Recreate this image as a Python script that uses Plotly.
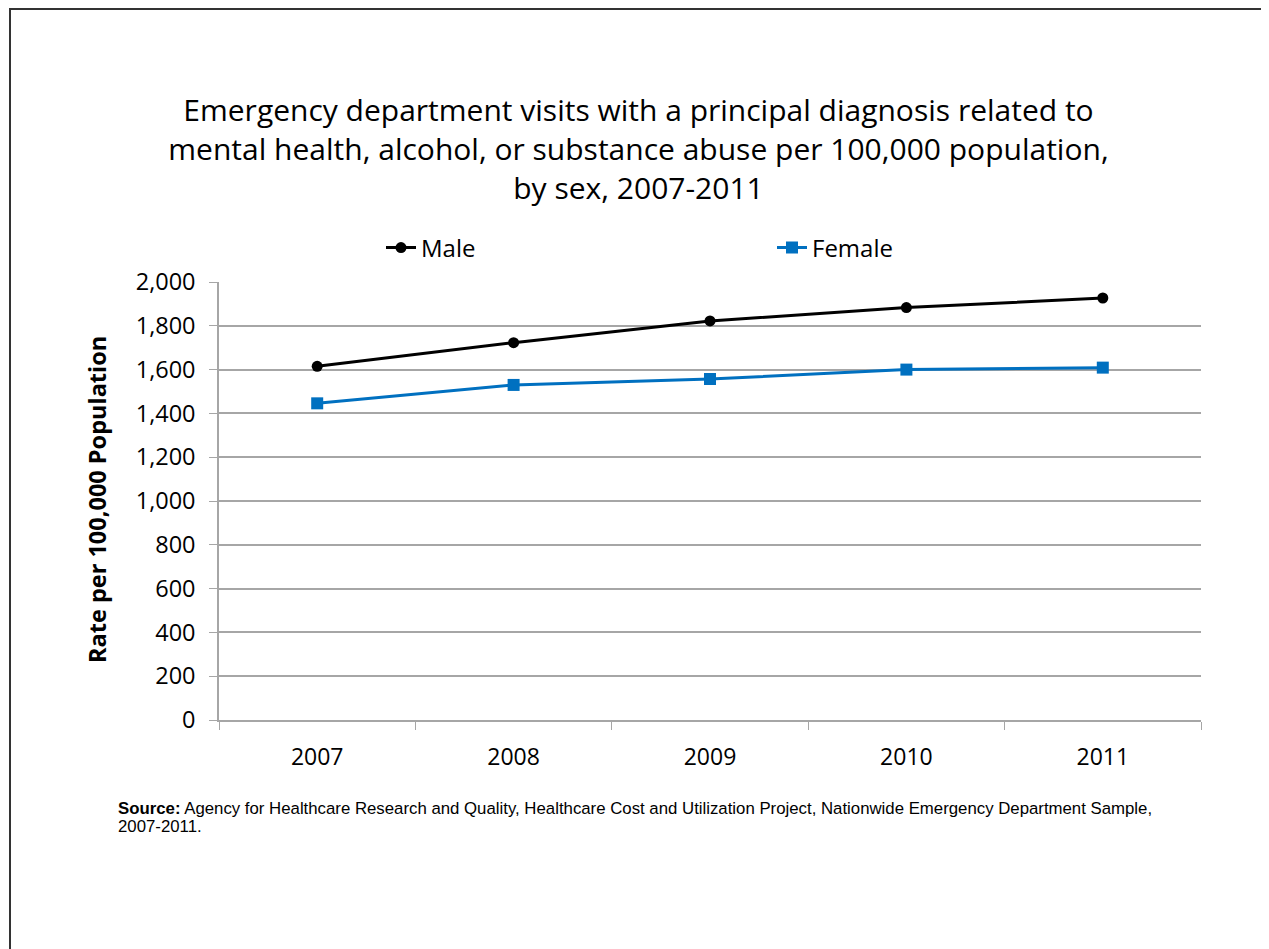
import plotly.graph_objects as go

years = ["2007", "2008", "2009", "2010", "2011"]
male = [1615, 1723, 1822, 1883, 1927]
female = [1446, 1530, 1557, 1600, 1609]
y_ticks = [0, 200, 400, 600, 800, 1000, 1200, 1400, 1600, 1800, 2000]

_BLACK = "#000000"
_BLUE = "#0070C0"
_GRID = "#A6A6A6"
_FONT = "Open Sans"

# page has an 8px body margin, so the figure is sized to fit the window
OFF = 8
W, H = 1269 - OFF, 949 - OFF
L, R, T, B = 211, 68, 274, 229


def px_x(p):
    # window pixel -> paper x
    return (p - OFF - L) / (W - L - R)


def px_y(p):
    # window pixel -> paper y
    return (H - B - (p - OFF)) / (H - B - T)


fig = go.Figure()
fig.add_trace(go.Scatter(
    x=years, y=male, name="Male", mode="lines+markers",
    line=dict(color=_BLACK, width=3),
    marker=dict(symbol="circle", size=11, color=_BLACK),
))
fig.add_trace(go.Scatter(
    x=years, y=female, name="Female", mode="lines+markers",
    line=dict(color=_BLUE, width=3),
    marker=dict(symbol="square", size=12, color=_BLUE),
))

fig.update_layout(
    width=W, height=H,
    paper_bgcolor="white", plot_bgcolor="white",
    font=dict(family=_FONT, color="#000000"),
    margin=dict(l=L, r=R, t=T, b=B, autoexpand=False),
    title=dict(
        text="Emergency department visits with a principal diagnosis related to<br>"
             "mental health, alcohol, or substance abuse per 100,000 population,<br>"
             "by sex, 2007-2011",
        x=0.5, xanchor="center", y=1 - (121 - OFF) / H, yanchor="middle",
        font=dict(family=_FONT, size=30, color="#000000"),
    ),
    legend=dict(
        orientation="h", x=px_x(381), xanchor="left",
        y=px_y(248), yanchor="middle",
        entrywidth=346, entrywidthmode="pixels",
        font=dict(family=_FONT, size=24, color="#000000"),
        bgcolor="rgba(0,0,0,0)",
    ),
    showlegend=True,
)

fig.update_xaxes(
    type="category", range=[-0.5, 4.5],
    tickson="boundaries", ticks="outside", ticklen=8, tickcolor=_GRID,
    ticklabelstandoff=16,
    showline=True, linecolor=_GRID, linewidth=1.5,
    showgrid=False, zeroline=False,
    tickfont=dict(family=_FONT, size=23, color="#000000"),
)
fig.update_yaxes(
    range=[0, 2000], tickvals=y_ticks,
    tickformat=",d", ticks="outside", ticklen=8, tickcolor=_GRID,
    ticklabelstandoff=9,
    showline=True, linecolor=_GRID, linewidth=1.5,
    showgrid=True, gridcolor=_GRID, gridwidth=1.5,
    zeroline=False,
    tickfont=dict(family=_FONT, size=23.5, color="#000000"),
)

fig.add_annotation(
    text="<b>Rate per 100,000 Population</b>",
    xref="paper", yref="paper", x=px_x(97), y=px_y(500),
    xanchor="center", yanchor="middle", textangle=-90, showarrow=False,
    font=dict(family=_FONT, size=23.5, color="#000000"),
)

src_font = dict(family="Liberation Sans", size=16.8, color="#000000")
fig.add_annotation(
    text="<b>Source:</b> Agency for Healthcare Research and Quality, Healthcare Cost and "
         "Utilization Project, Nationwide Emergency Department Sample,",
    xref="paper", yref="paper", x=px_x(116), y=px_y(808),
    xanchor="left", yanchor="middle", align="left", showarrow=False,
    font=src_font,
)
fig.add_annotation(
    text="2007-2011.",
    xref="paper", yref="paper", x=px_x(116), y=px_y(826),
    xanchor="left", yanchor="middle", align="left", showarrow=False,
    font=src_font,
)

# outer frame
fig.add_shape(
    type="rect", xref="paper", yref="paper",
    x0=px_x(10), x1=px_x(1264), y0=px_y(990), y1=px_y(9),
    line=dict(color="#333333", width=2), layer="below",
)

fig.write_html("out.html")
